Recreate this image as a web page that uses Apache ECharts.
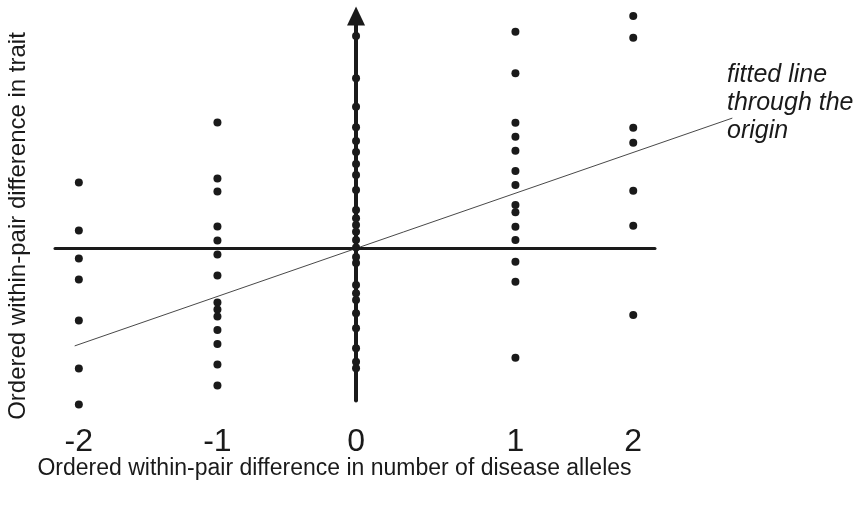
<!DOCTYPE html>
<html>
<head>
<meta charset="utf-8">
<script src="https://cdn.jsdelivr.net/npm/echarts@6/dist/echarts.min.js"></script>
<style>html,body{margin:0;padding:0;background:#fff}#c{width:866px;height:510px}</style>
</head>
<body>
<div id="c"></div>
<script>
// Column positions (as drawn on the x scale) and their tick labels
var columnX = [-2, -1, 0, 1.15, 2];
var tickLabels = ['-2', '-1', '0', '1', '2'];
// Ordered within-pair trait differences (arbitrary units) per column
var colM2 = [3.3, 0.9, -0.5, -1.55, -3.6, -6.0, -7.8];
var colM1 = [6.3, 3.5, 2.85, 1.1, 0.4, -0.3, -1.35, -2.7, -3.05, -3.4, -4.08, -4.78, -5.8, -6.85];
var col0 = [10.63, 8.51, 7.09, 6.06, 5.38, 4.83, 4.23, 3.68, 2.93, 1.93, 1.51, 1.18, 0.84, 0.43, 0.05, -0.43, -0.73, -1.83, -2.24, -2.58, -3.24, -3.99, -4.99, -5.66, -5.99];
var colP1 = [10.84, 8.76, 6.29, 5.59, 4.89, 3.88, 3.18, 2.18, 1.81, 1.09, 0.43, -0.66, -1.66, -5.46];
var colP2 = [11.63, 10.54, 6.04, 5.29, 2.89, 1.14, -3.33];
// Fitted line through the origin (end points)
var fitX = [-2.03, 2.715];
var fitY = [-4.87, 6.52];

var columns = [colM2, colM1, col0, colP1, colP2];
var points = [];
columns.forEach(function (col, i) {
  col.forEach(function (v) { points.push([columnX[i], v]); });
});
var fitData = fitX.map(function (x, i) { return [x, fitY[i]]; });

var FONT = "'Liberation Sans', Arial, Helvetica, sans-serif";
var INK = '#1a1a1a';
var XMIN = -2.172, XMAX = 2.157, YMIN = -7.6, YMAX = 11.625;

var chart = echarts.init(document.getElementById('c'), null, {renderer: 'canvas'});
chart.setOption({
  animation: false,
  backgroundColor: '#ffffff',
  grid: [
    {left: 55, right: 211, top: 16, bottom: 109.5, containLabel: false},
    // same scale, extended to the right so the fitted line can run past the axis
    {left: 55, right: 126, top: 16, bottom: 109.5, containLabel: false}
  ],
  xAxis: [
    {
      type: 'value', gridIndex: 0, min: XMIN, max: XMAX,
      axisLine: {show: true, onZero: true, lineStyle: {color: INK, width: 3}},
      axisTick: {show: false}, axisLabel: {show: false}, splitLine: {show: false}
    },
    {
      type: 'value', gridIndex: 0, min: XMIN, max: XMAX, position: 'bottom',
      axisLine: {show: false, onZero: false},
      axisTick: {show: false}, splitLine: {show: false},
      axisLabel: {
        show: true, customValues: columnX, margin: 26,
        fontFamily: FONT, fontSize: 32, color: INK,
        formatter: function (v) {
          var idx = columnX.indexOf(v);
          return idx >= 0 ? tickLabels[idx] : '';
        }
      }
    },
    {
      type: 'value', gridIndex: 1, min: XMIN, max: XMIN + 685 / (600 / (XMAX - XMIN)), show: false
    }
  ],
  yAxis: [
    {
      type: 'value', gridIndex: 0, min: YMIN, max: YMAX,
      axisLine: {show: true, onZero: true, symbol: ['none', 'triangle'], symbolSize: [18, 19],
        lineStyle: {color: INK, width: 4}},
      axisTick: {show: false}, axisLabel: {show: false}, splitLine: {show: false}
    },
    {
      type: 'value', gridIndex: 1, min: YMIN, max: YMAX, show: false
    }
  ],
  series: [
    {
      type: 'line', data: fitData, xAxisIndex: 2, yAxisIndex: 1, symbol: 'none', clip: false,
      lineStyle: {color: '#333', width: 0.9}, z: 3
    },
    {
      type: 'scatter', data: points, xAxisIndex: 0, yAxisIndex: 0, symbol: 'circle', symbolSize: 8, clip: false,
      itemStyle: {color: INK, opacity: 1}, z: 4
    }
  ],
  graphic: [
    {
      type: 'text', left: 727, top: 61,
      style: {text: 'fitted line\nthrough the\norigin', font: 'italic 25px ' + FONT, lineHeight: 28, fill: INK}
    },
    {
      type: 'text', x: 334.5, y: 469,
      style: {text: 'Ordered within-pair difference in number of disease alleles', font: '23px ' + FONT,
        fill: INK, align: 'center', verticalAlign: 'middle'}
    },
    {
      type: 'text', x: 18, y: 226, rotation: Math.PI / 2,
      style: {text: 'Ordered within-pair difference in trait', font: '24px ' + FONT,
        fill: INK, align: 'center', verticalAlign: 'middle'}
    }
  ]
});
</script>
</body>
</html>
